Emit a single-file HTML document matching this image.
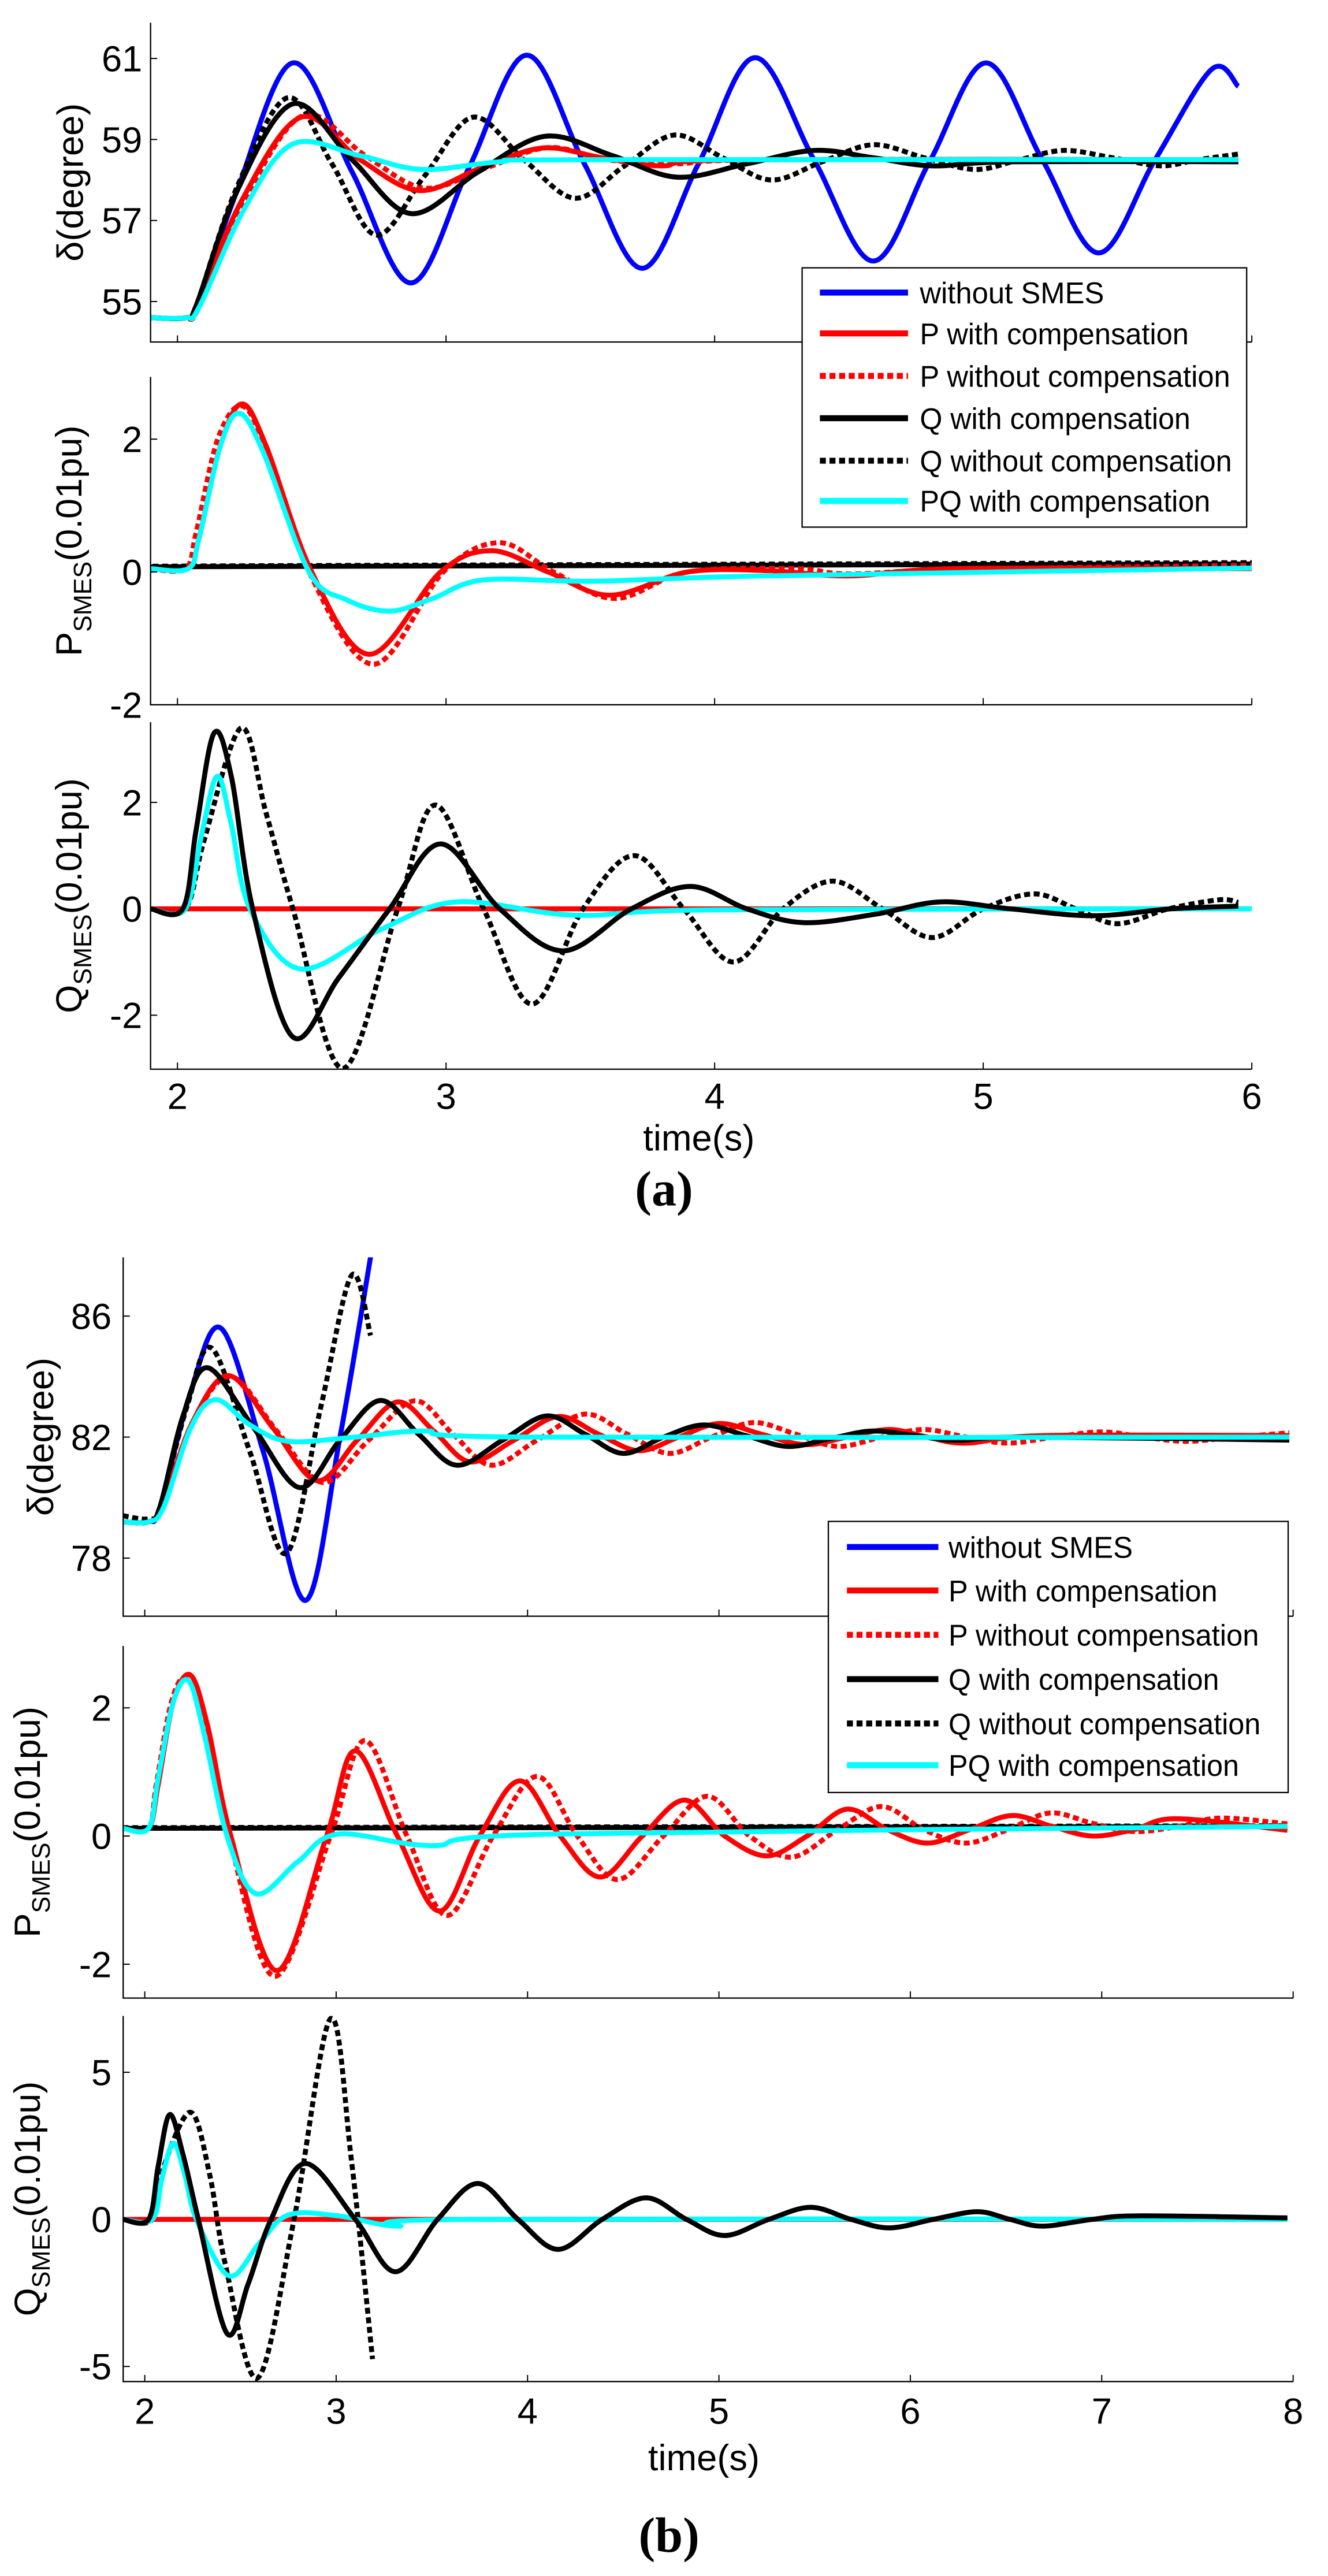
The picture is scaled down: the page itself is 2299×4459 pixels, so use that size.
<!DOCTYPE html>
<html><head><meta charset="utf-8"><style>
html,body{margin:0;padding:0;background:#fff;}
svg{display:block;}
text{font-family:"Liberation Sans",sans-serif;fill:#000;}
</style></head><body>
<svg id="fig" xmlns="http://www.w3.org/2000/svg" width="2299" height="4459" viewBox="0 0 800 1551.6"></svg>
<script>
// ---------- Panel (a) data: [time, value] ----------
const aDeltaBlue=[[1.9,54.6],[2.03,54.6],[2.07,54.9],[2.22,57.7],[2.43,60.89],[2.65,58.2],[2.87,55.46],[3.085,58.3],[3.30,61.08],[3.515,58.4],[3.73,55.82],[3.94,58.4],[4.15,61.02],[4.37,58.5],[4.59,56.0],[4.80,58.45],[5.01,60.89],[5.22,58.5],[5.43,56.2],[5.64,58.5],[5.85,60.73],[5.95,60.31]];
const aDeltaRed=[[1.9,54.6],[2.03,54.6],[2.07,54.85],[2.24,57.5],[2.46,59.55],[2.68,58.5],[2.90,57.74],[3.13,58.3],[3.36,58.79],[3.58,58.55],[3.80,58.35],[4.1,58.5],[5.95,58.5]];
const aDeltaRedDot=[[1.9,54.6],[2.03,54.6],[2.08,54.85],[2.25,57.5],[2.47,59.6],[2.70,58.6],[2.92,57.8],[3.15,58.3],[3.38,58.8],[3.6,58.5],[3.85,58.4],[4.2,58.5],[5.95,58.5]];
const aDeltaBlack=[[1.9,54.6],[2.03,54.6],[2.07,54.9],[2.22,57.7],[2.43,59.88],[2.65,58.5],[2.87,57.17],[3.12,58.2],[3.37,59.08],[3.62,58.6],[3.86,58.07],[4.12,58.4],[4.37,58.73],[4.59,58.55],[4.81,58.35],[5.1,58.45],[5.95,58.45]];
const aDeltaBlackDot=[[1.9,54.6],[2.03,54.6],[2.07,54.9],[2.22,57.8],[2.41,60.03],[2.575,58.4],[2.74,56.64],[2.92,58.1],[3.10,59.55],[3.29,58.5],[3.48,57.55],[3.665,58.35],[3.85,59.11],[4.03,58.55],[4.21,58.0],[4.40,58.45],[4.59,58.87],[4.78,58.55],[4.97,58.26],[5.135,58.5],[5.30,58.73],[5.48,58.55],[5.66,58.35],[5.80,58.5],[5.95,58.64]];
const aDeltaCyan=[[1.9,54.6],[2.03,54.6],[2.08,54.85],[2.25,57.3],[2.43,58.89],[2.68,58.6],[2.91,58.26],[3.2,58.45],[3.5,58.5],[5.95,58.5]];

const aPRed=[[1.9,0.05],[2.04,0.05],[2.08,0.5],[2.16,1.9],[2.24,2.53],[2.33,1.9],[2.50,0],[2.716,-1.24],[2.98,0],[3.17,0.32],[3.38,0],[3.61,-0.35],[3.9,0],[4.2,0.02],[4.5,-0.06],[4.9,0.05],[6.0,0.05]];
const aPRedDot=[[1.9,0.05],[2.03,0.05],[2.07,0.6],[2.15,2.0],[2.24,2.5],[2.33,1.85],[2.49,0],[2.73,-1.39],[2.99,0],[3.20,0.44],[3.40,0],[3.63,-0.40],[3.9,0],[4.3,0.05],[4.5,-0.03],[4.9,0.04],[6.0,0.1]];
const aPBlack=[[1.9,0.05],[2.1,0.08],[6.0,0.12]];
const aPBlackDot=[[1.9,0.06],[2.1,0.09],[6.0,0.14]];
const aPCyan=[[1.9,0.05],[2.04,0.05],[2.08,0.5],[2.16,1.9],[2.23,2.39],[2.32,1.8],[2.49,0],[2.63,-0.42],[2.79,-0.59],[2.95,-0.4],[3.14,-0.12],[3.55,-0.14],[4.18,-0.06],[6.0,0.06]];

const aQRed=[[1.9,0],[6.0,0]];
const aQBlack=[[1.9,0],[2.02,0],[2.07,1.5],[2.136,3.30],[2.20,2.5],[2.28,0],[2.43,-2.41],[2.60,-1.3],[2.79,0],[2.98,1.22],[3.20,0],[3.435,-0.79],[3.69,0],[3.91,0.42],[4.12,0],[4.33,-0.26],[4.6,-0.1],[4.84,0.13],[5.1,0],[5.41,-0.13],[5.7,0],[5.95,0.05]];
const aQBlackDot=[[1.9,0],[2.03,0],[2.10,1.3],[2.237,3.40],[2.33,1.8],[2.43,0],[2.615,-3.0],[2.82,0],[2.96,1.95],[3.14,0],[3.32,-1.79],[3.51,0],[3.70,1.0],[3.885,0],[4.07,-1.0],[4.255,0],[4.44,0.52],[4.625,0],[4.81,-0.54],[5.0,0],[5.19,0.28],[5.345,0],[5.50,-0.28],[5.69,0],[5.88,0.17],[5.95,0.12]];
const aQCyan=[[1.9,0],[2.03,0],[2.09,1.4],[2.148,2.49],[2.20,1.6],[2.27,0],[2.457,-1.13],[2.76,-0.38],[3.04,0.13],[3.48,-0.12],[4.0,-0.02],[6.0,0]];

// ---------- Panel (b) data ----------
const bDeltaBlue=[[1.885,79.2],[2.02,79.2],[2.08,79.7],[2.24,83.5],[2.40,85.59],[2.62,81.5],[2.84,76.6],[3.02,82.0],[3.18,87.96],[3.22,89.5]];
const bDeltaBlackDot=[[1.885,79.4],[2.02,79.3],[2.08,79.7],[2.22,83.0],[2.35,84.94],[2.55,81.5],[2.74,78.16],[2.92,83.0],[3.08,87.34],[3.18,85.36]];
const bDeltaBlack=[[1.885,79.2],[2.02,79.2],[2.08,79.7],[2.20,82.7],[2.33,84.29],[2.57,82.3],[2.81,80.33],[3.02,81.9],[3.23,83.21],[3.43,82.1],[3.63,81.07],[3.87,81.9],[4.10,82.7],[4.30,82.1],[4.50,81.46],[4.71,82.0],[4.92,82.4],[5.14,82.05],[5.36,81.69],[5.58,81.95],[5.80,82.2],[6.02,82.05],[6.24,81.89],[6.6,82.0],[7.98,81.9]];
const bDeltaRed=[[1.885,79.2],[2.02,79.2],[2.09,79.7],[2.25,82.5],[2.44,84.03],[2.67,82.3],[2.90,80.56],[3.11,81.9],[3.32,83.16],[3.51,82.2],[3.70,81.18],[3.93,81.9],[4.16,82.68],[4.37,82.1],[4.58,81.55],[4.79,82.0],[5.0,82.45],[5.22,82.1],[5.45,81.75],[5.67,82.0],[5.89,82.25],[6.09,82.0],[6.29,81.8],[6.7,82.05],[7.98,82.05]];
const bDeltaRedDot=[[1.885,79.2],[2.02,79.2],[2.09,79.7],[2.25,82.5],[2.45,84.0],[2.69,82.2],[2.93,80.5],[3.17,81.9],[3.41,83.2],[3.61,82.1],[3.81,81.07],[4.05,81.9],[4.30,82.76],[4.52,82.1],[4.74,81.46],[4.96,82.0],[5.18,82.48],[5.40,82.1],[5.62,81.69],[5.85,82.0],[6.07,82.25],[6.29,82.0],[6.51,81.8],[6.75,82.0],[7.0,82.17],[7.22,82.0],[7.44,81.86],[7.7,82.0],[7.98,82.14]];
const bDeltaCyan=[[1.885,79.2],[2.02,79.2],[2.10,79.7],[2.24,82.3],[2.37,83.24],[2.55,82.4],[2.75,81.86],[3.1,82.0],[3.46,82.2],[4.0,82.0],[7.98,82.0]];

const bPRed=[[1.885,0.12],[2.02,0.12],[2.07,0.8],[2.15,2.1],[2.24,2.51],[2.33,1.7],[2.45,0],[2.69,-2.1],[2.95,0],[3.10,1.33],[3.32,0],[3.54,-1.17],[3.75,0],[3.96,0.86],[4.17,0],[4.38,-0.64],[4.60,0],[4.82,0.56],[5.03,0],[5.25,-0.31],[5.46,0],[5.67,0.42],[5.88,0.1],[6.09,-0.11],[6.31,0.1],[6.53,0.32],[6.74,0.15],[6.95,0],[7.17,0.1],[7.39,0.27],[7.97,0.09]];
const bPRedDot=[[1.885,0.12],[2.02,0.12],[2.06,0.8],[2.14,2.1],[2.22,2.45],[2.32,1.7],[2.44,0],[2.68,-2.19],[2.97,0],[3.15,1.49],[3.37,0],[3.58,-1.24],[3.82,0],[4.05,0.93],[4.26,0],[4.47,-0.68],[4.71,0],[4.94,0.62],[5.16,0],[5.38,-0.33],[5.62,0.1],[5.85,0.46],[6.07,0.1],[6.29,-0.11],[6.51,0.1],[6.73,0.36],[6.95,0.2],[7.17,0.07],[7.4,0.15],[7.62,0.28],[7.97,0.19]];
const bPBlack=[[1.885,0.12],[7.97,0.15]];
const bPBlackDot=[[1.885,0.13],[7.97,0.16]];
const bPCyan=[[1.885,0.12],[2.02,0.12],[2.07,0.9],[2.15,2.1],[2.23,2.42],[2.31,1.6],[2.43,0],[2.58,-0.9],[2.8,-0.4],[3.01,0.03],[3.50,-0.15],[4.12,0.03],[7.97,0.15]];

const bQRed=[[1.885,0],[7.97,0]];
const bQBlack=[[1.885,0],[2.02,0],[2.07,1.8],[2.13,3.56],[2.20,2.2],[2.28,0],[2.43,-3.88],[2.54,-2.2],[2.66,0],[2.84,1.9],[3.10,0],[3.31,-1.78],[3.53,0],[3.74,1.22],[3.95,0],[4.16,-1.02],[4.39,0],[4.62,0.73],[4.83,0],[5.03,-0.55],[5.26,0],[5.48,0.41],[5.69,0],[5.89,-0.29],[6.12,0],[6.35,0.26],[6.52,0],[6.69,-0.23],[6.95,0],[7.2,0.12],[7.97,0.05]];
const bQBlackDot=[[1.885,0],[2.04,0],[2.10,1.8],[2.24,3.64],[2.34,1.5],[2.42,-1.5],[2.59,-5.39],[2.78,0],[2.97,6.82],[3.08,2.0],[3.19,-4.75]];
const bQCyan=[[1.885,0],[2.04,0],[2.09,1.4],[2.15,2.59],[2.21,1.5],[2.27,0],[2.44,-1.92],[2.6,-0.8],[2.75,0.15],[3.01,0.12],[3.32,-0.23],[3.7,0],[7.97,0]];

// tick labels
const aXTicks=[2,3,4,5,6];
const bXTicks=[2,3,4,5,6,7,8];
const aDeltaTicks=[55,57,59,61];
const aPTicks=[-2,0,2];
const aQTicks=[-2,0,2];
const bDeltaTicks=[78,82,86];
const bPTicks=[-2,0,2];
const bQTicks=[-5,0,5];
const legendLabels=["without SMES","P with compensation","P without compensation","Q with compensation","Q without compensation","PQ with compensation"];

const NS="http://www.w3.org/2000/svg";
const svg=document.getElementById('fig');
function mk(tag,attrs,parent){const e=document.createElementNS(NS,tag);for(const k in attrs)e.setAttribute(k,attrs[k]);(parent||svg).appendChild(e);return e;}

const BLUE="#0000ff",RED="#ff0000",BLACK="#000000",CYAN="#00ffff";
const DOT="3.6 2.2";

function spline(pts){
  let d="M"+pts[0][0].toFixed(2)+","+pts[0][1].toFixed(2);
  for(let i=0;i<pts.length-1;i++){
    const p0=pts[Math.max(0,i-1)],p1=pts[i],p2=pts[i+1],p3=pts[Math.min(pts.length-1,i+2)];
    const c1x=p1[0]+(p2[0]-p0[0])/6,c1y=p1[1]+(p2[1]-p0[1])/6;
    const c2x=p2[0]-(p3[0]-p1[0])/6,c2y=p2[1]-(p3[1]-p1[1])/6;
    d+=" C"+c1x.toFixed(2)+","+c1y.toFixed(2)+" "+c2x.toFixed(2)+","+c2y.toFixed(2)+" "+p2[0].toFixed(2)+","+p2[1].toFixed(2);
  }
  return d;
}

let clipId=0;
function subplot(cfg){
  const g=mk('g',{});
  
  
  const sx=t=>cfg.x0+(t-2)*cfg.xs;
  const sy=v=>cfg.y0-(v-cfg.v0)*cfg.ys;
  const id="clip"+(clipId++);
  const cp=mk('clipPath',{id:id},g);
  mk('rect',{x:cfg.xL,y:cfg.top,width:cfg.xR-cfg.xL,height:cfg.bottom-cfg.top},cp);
  const lg=mk('g',{'clip-path':'url(#'+id+')'},g);
  cfg.series.forEach(s=>{
    const p=mk('path',{d:spline(s.data.map(q=>[sx(q[0]),sy(q[1])])),fill:'none',stroke:s.color,'stroke-width':3,'stroke-linejoin':'round'},lg);
    if(s.dot)p.setAttribute('stroke-dasharray',DOT);
    
    
  });
  const ax=mk('path',{d:`M${cfg.xL},${cfg.top}V${cfg.bottom}H${cfg.xR}`,fill:'none',stroke:'#000','stroke-width':0.8},g);
  
  
  cfg.yt.forEach(v=>{
    mk('line',{x1:cfg.xL,x2:cfg.xL+4,y1:sy(v),y2:sy(v),stroke:'#000','stroke-width':0.7},g);
    const t=mk('text',{x:cfg.xL-cfg.lblGap,y:sy(v)+7.8,'text-anchor':'end','font-size':22},g);
    t.textContent=v;
    
    
  });
  cfg.xt.forEach(v=>{
    mk('line',{x1:sx(v),x2:sx(v),y1:cfg.bottom,y2:cfg.bottom-4,stroke:'#000','stroke-width':0.7},g);
    if(cfg.xlabels){
      const t=mk('text',{x:sx(v),y:cfg.xlabY,'text-anchor':'middle','font-size':22},g);
      t.textContent=v;
      
      
    }
  });
  const cy=(cfg.top+cfg.bottom)/2;
  const yl=mk('text',{x:cfg.labX,y:cy,'text-anchor':'middle','font-size':22,transform:`rotate(-90 ${cfg.labX} ${cy})`},g);
  
  
  if(cfg.sub){
    yl.appendChild(document.createTextNode(cfg.label));
    const ts=mk('tspan',{'font-size':15,dy:6},yl);ts.textContent=cfg.sub;
    const ts2=mk('tspan',{dy:-6},yl);ts2.textContent=cfg.rest;
  } else yl.textContent=cfg.label;
}

function S(id,data,color,dot){return {id,data,color,dot};}

const aX={x0:106.9,xs:161.8,xL:90.7,xR:754.1,lblGap:5};
subplot(Object.assign({},aX,{name:'panel-a-delta-plot',labX:50,top:13.7,bottom:206,y0:181.6,v0:55,ys:24.4,yt:aDeltaTicks,xt:aXTicks,label:'δ(degree)',
 series:[S('a-delta-without-smes',aDeltaBlue,BLUE),S('a-delta-p-without-comp',aDeltaRedDot,RED,1),S('a-delta-q-without-comp',aDeltaBlackDot,BLACK,1),S('a-delta-p-with-comp',aDeltaRed,RED),S('a-delta-q-with-comp',aDeltaBlack,BLACK),S('a-delta-pq-with-comp',aDeltaCyan,CYAN)]}));
subplot(Object.assign({},aX,{name:'panel-a-psmes-plot',labX:49,top:227,bottom:424.5,y0:344.5,v0:0,ys:40,yt:aPTicks,xt:aXTicks,label:'P',sub:'SMES',rest:'(0.01pu)',
 series:[S('a-p-q-without-comp',aPBlackDot,BLACK,1),S('a-p-q-with-comp',aPBlack,BLACK),S('a-p-p-without-comp',aPRedDot,RED,1),S('a-p-p-with-comp',aPRed,RED),S('a-p-pq-with-comp',aPCyan,CYAN)]}));
subplot(Object.assign({},aX,{name:'panel-a-qsmes-plot',labX:49,top:435,bottom:644,y0:547.4,v0:0,ys:32.05,yt:aQTicks,xt:aXTicks,xlabels:true,xlabY:668,label:'Q',sub:'SMES',rest:'(0.01pu)',
 series:[S('a-q-p-with-comp',aQRed,RED),S('a-q-q-without-comp',aQBlackDot,BLACK,1),S('a-q-pq-with-comp',aQCyan,CYAN),S('a-q-q-with-comp',aQBlack,BLACK)]}));

const bX={x0:87.2,xs:115.3,xL:74.2,xR:779.1,lblGap:7};
subplot(Object.assign({},bX,{name:'panel-b-delta-plot',labX:32,top:757.3,bottom:973.5,y0:865.6,v0:82,ys:18.22,yt:bDeltaTicks,xt:bXTicks,label:'δ(degree)',
 series:[S('b-delta-without-smes',bDeltaBlue,BLUE),S('b-delta-q-without-comp',bDeltaBlackDot,BLACK,1),S('b-delta-p-without-comp',bDeltaRedDot,RED,1),S('b-delta-p-with-comp',bDeltaRed,RED),S('b-delta-q-with-comp',bDeltaBlack,BLACK),S('b-delta-pq-with-comp',bDeltaCyan,CYAN)]}));
subplot(Object.assign({},bX,{name:'panel-b-psmes-plot',labX:24,top:991.4,bottom:1203.5,y0:1105.9,v0:0,ys:38.6,yt:bPTicks,xt:bXTicks,label:'P',sub:'SMES',rest:'(0.01pu)',
 series:[S('b-p-q-without-comp',bPBlackDot,BLACK,1),S('b-p-q-with-comp',bPBlack,BLACK),S('b-p-p-without-comp',bPRedDot,RED,1),S('b-p-p-with-comp',bPRed,RED),S('b-p-pq-with-comp',bPCyan,CYAN)]}));
subplot(Object.assign({},bX,{name:'panel-b-qsmes-plot',labX:24,top:1214.3,bottom:1434.5,y0:1336.8,v0:0,ys:17.72,yt:bQTicks,xt:bXTicks,xlabels:true,xlabY:1460,label:'Q',sub:'SMES',rest:'(0.01pu)',
 series:[S('b-q-p-with-comp',bQRed,RED),S('b-q-q-without-comp',bQBlackDot,BLACK,1),S('b-q-pq-with-comp',bQCyan,CYAN),S('b-q-q-with-comp',bQBlack,BLACK)]}));

function label(x,y,txt,name,extra){const t=mk('text',Object.assign({x:x,y:y,'text-anchor':'middle','font-size':22},extra||{}));t.textContent=txt;return t;}
label(421,693,'time(s)','x-axis-title-a');
label(424,1488,'time(s)','x-axis-title-b');
const pa=label(400,726,'(a)','panel-label-a',{'font-size':30});pa.setAttribute('style','font-family:"Liberation Serif",serif;font-weight:bold');
const pb=label(403,1537,'(b)','panel-label-b',{'font-size':30});pb.setAttribute('style','font-family:"Liberation Serif",serif;font-weight:bold');

const legendColors=[BLUE,RED,RED,BLACK,BLACK,CYAN];
const legendDots=[0,0,1,0,1,0];
const legendWidths=[111,162,187,163,188,175];
function legend(name,x,y,w,h,rowY,lx1,lx2,tx){
  const g=mk('g',{});
  
  
  mk('rect',{x:x,y:y,width:w,height:h,fill:'#fff',stroke:'#000','stroke-width':0.8},g);
  legendLabels.forEach((lab,i)=>{
    const yy=rowY[i];
    const l=mk('line',{x1:lx1,x2:lx2,y1:yy,y2:yy,stroke:legendColors[i],'stroke-width':3.6},g);
    if(legendDots[i])l.setAttribute('stroke-dasharray',DOT);
    const t=mk('text',{x:tx,y:yy+6.5,'font-size':18,textLength:legendWidths[i],lengthAdjust:'spacingAndGlyphs'},g);
    t.textContent=lab;
    
    
  });
}
legend('legend-a',483.2,161.3,267.8,156.2,[176.2,200.8,226.4,251.9,277.5,301.7],493.9,547,554.1);
legend('legend-b',499,916.4,277,163.3,[931.8,958,984.7,1011.4,1038.1,1063.2],510.2,565.3,571.4);
</script>
</body></html>
